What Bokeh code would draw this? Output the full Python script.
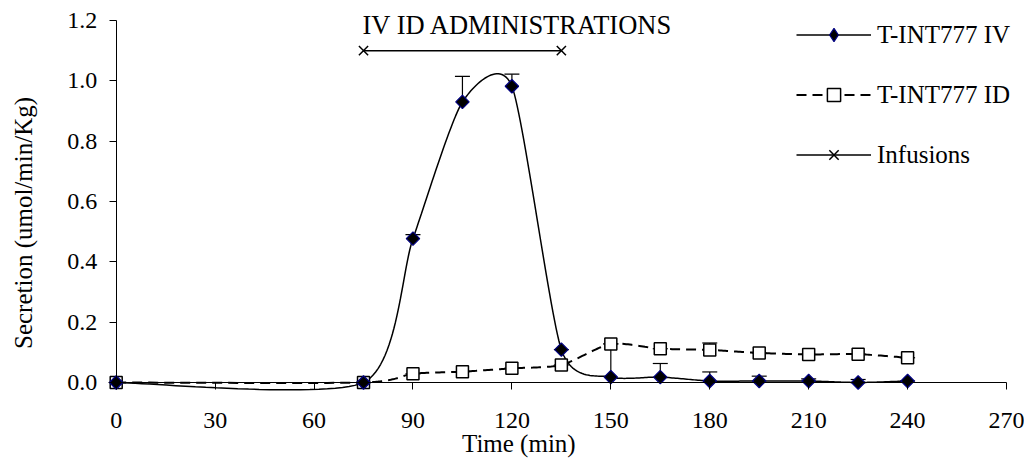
import numpy as np
from bokeh.plotting import figure
from bokeh.models import (ColumnDataSource, FixedTicker, Whisker, TeeHead, Legend,
                          LegendItem, Label, NumeralTickFormatter, Range1d, LinearAxis)
from bokeh.embed import file_html
from bokeh.resources import INLINE

# ---------------- data ----------------
time_min = [0, 75, 90, 105, 120, 135, 150, 165, 180, 195, 210, 225, 240]
iv_secretion = [0.0, 0.0, 0.477, 0.930, 0.982, 0.109, 0.018, 0.018, 0.005, 0.005, 0.005, 0.0, 0.005]
iv_error = [0.0, 0.0, 0.013, 0.085, 0.040, 0.0, 0.110, 0.045, 0.030, 0.016, 0.007, 0.010, 0.0]
id_secretion = [0.0, 0.0, 0.029, 0.036, 0.047, 0.058, 0.128, 0.112, 0.108, 0.098, 0.093, 0.094, 0.082]
id_error = [0.0, 0.0, 0.0, 0.0, 0.0, 0.0, 0.0, 0.0, 0.023, 0.0, 0.0, 0.0, 0.0]
infusion_time = [75, 135]
infusion_level = [1.1, 1.1]
x_ticks = [0, 30, 60, 90, 120, 150, 180, 210, 240, 270]
y_ticks = [0.0, 0.2, 0.4, 0.6, 0.8, 1.0, 1.2]

FONT = "Liberation Serif"
PXX = 3.2975   # px per minute
PXY = 301.67   # px per unit
X0, Y0 = 115.7, 382.0   # pixel position of the (0, 0) corner
W, H = 1024, 458


def smooth(xs, ys, steps=30, k=0.115):
    """Excel-like smoothed line (cardinal Bezier through the points)."""
    pts = np.column_stack([xs, ys]).astype(float)
    n = len(pts)
    out = [pts[0]]
    t = np.linspace(0, 1, steps + 1)[1:, None]
    for i in range(n - 1):
        p0 = pts[i - 1] if i > 0 else pts[i]
        p1 = pts[i]
        p2 = pts[i + 1]
        p3 = pts[i + 2] if i + 2 < n else pts[i + 1]
        c1 = p1 + (p2 - p0) * k
        c2 = p2 - (p3 - p1) * k
        seg = ((1 - t) ** 3) * p1 + 3 * ((1 - t) ** 2) * t * c1 + 3 * (1 - t) * t ** 2 * c2 + t ** 3 * p2
        out.extend(seg)
    arr = np.array(out)
    return arr[:, 0], arr[:, 1]


def dx(px):
    return (px - X0) / PXX


def dy(py):
    return (Y0 - py) / PXY


# the frame covers the whole canvas; axes are drawn crossing at zero
p = figure(width=W, height=H,
           x_range=Range1d(dx(0), dx(W)), y_range=Range1d(dy(H), dy(0)),
           x_axis_location=None, y_axis_location=None,
           output_backend="svg", toolbar_location=None, min_border=0)
p.grid.visible = False
p.outline_line_color = None
p.background_fill_color = "white"
p.border_fill_color = "white"

# error bars (upward only)
iv_src = ColumnDataSource(dict(x=time_min, y=iv_secretion,
                               upper=[v + e for v, e in zip(iv_secretion, iv_error)]))
id_src = ColumnDataSource(dict(x=time_min, y=id_secretion,
                               upper=[v + e for v, e in zip(id_secretion, id_error)]))
for src in (iv_src, id_src):
    p.add_layout(Whisker(source=src, base="x", upper="upper", lower="y", dimension="height",
                         line_color="black", line_width=1.2,
                         upper_head=TeeHead(size=15, line_color="black", line_width=1.2),
                         lower_head=None))

# smoothed lines and markers
ivx, ivy = smooth(time_min, iv_secretion)
idx_, idy = smooth(time_min, id_secretion)
id_line = p.line(idx_, idy, line_color="black", line_width=2, line_dash="10 6")
iv_line = p.line(ivx, ivy, line_color="black", line_width=1.5)
id_pts = p.scatter("x", "y", source=id_src, marker="square", size=12,
                   fill_color="white", line_color="black", line_width=1.5)
# diamond glyph used for the legend swatch (hidden under the plotted diamonds)
iv_leg = p.scatter("x", "y", source=iv_src, marker="diamond", size=0,
                   fill_color="black", line_color="#000080", line_width=1.2)
iv_pts = p.scatter("x", "y", source=iv_src, marker="square", angle=np.pi / 4, size=9.5,
                   fill_color="black", line_color="#000080", line_width=1.2)
inf_line = p.line(infusion_time, infusion_level, line_color="black", line_width=1.5)
inf_pts = p.scatter(infusion_time, infusion_level, marker="x", size=13,
                    line_color="black", line_width=1.5)

# texts
p.add_layout(Label(x=121.8, y=dy(24), text="IV ID ADMINISTRATIONS", text_align="center",
                   text_baseline="middle", text_font=FONT, text_font_size="26.5px",
                   text_color="black"))
p.add_layout(Label(x=122.1, y=dy(443), text="Time (min)", text_align="center",
                   text_baseline="middle", text_font=FONT, text_font_size="25px",
                   text_color="black"))
p.add_layout(Label(x=dx(22.5), y=dy(222.5), text="Secretion (umol/min/Kg)", angle=np.pi / 2,
                   text_align="center", text_baseline="middle", text_font=FONT,
                   text_font_size="25px", text_color="black"))

# axes crossing at zero
xax = LinearAxis(fixed_location=0, ticker=FixedTicker(ticks=x_ticks), bounds=(0, 270),
                 major_label_standoff=23)
yax = LinearAxis(fixed_location=0, ticker=FixedTicker(ticks=y_ticks), bounds=(0, 1.2),
                 formatter=NumeralTickFormatter(format="0.0"), major_label_standoff=12)
for ax in (xax, yax):
    ax.axis_line_color = "black"
    ax.major_tick_line_color = "black"
    ax.major_tick_out = 7
    ax.major_tick_in = 0
    ax.minor_tick_line_color = None
    ax.minor_tick_out = 0
    ax.major_label_text_font = FONT
    ax.major_label_text_font_size = "24px"
    ax.major_label_text_color = "black"
p.add_layout(xax, "below")
p.add_layout(yax, "left")

legend = Legend(items=[
    LegendItem(label="T-INT777 IV", renderers=[iv_line, iv_leg]),
    LegendItem(label="T-INT777 ID", renderers=[id_line, id_pts]),
    LegendItem(label="Infusions", renderers=[inf_line, inf_pts]),
], location=(796, H - 171), orientation="vertical",
    glyph_width=75, glyph_height=33, label_height=33, spacing=27,
    label_standoff=6, padding=0, margin=0,
    label_text_font=FONT, label_text_font_size="25px", label_text_color="black",
    border_line_color=None, background_fill_alpha=0)
p.add_layout(legend)

open("out.html", "w").write(file_html(p, INLINE))
